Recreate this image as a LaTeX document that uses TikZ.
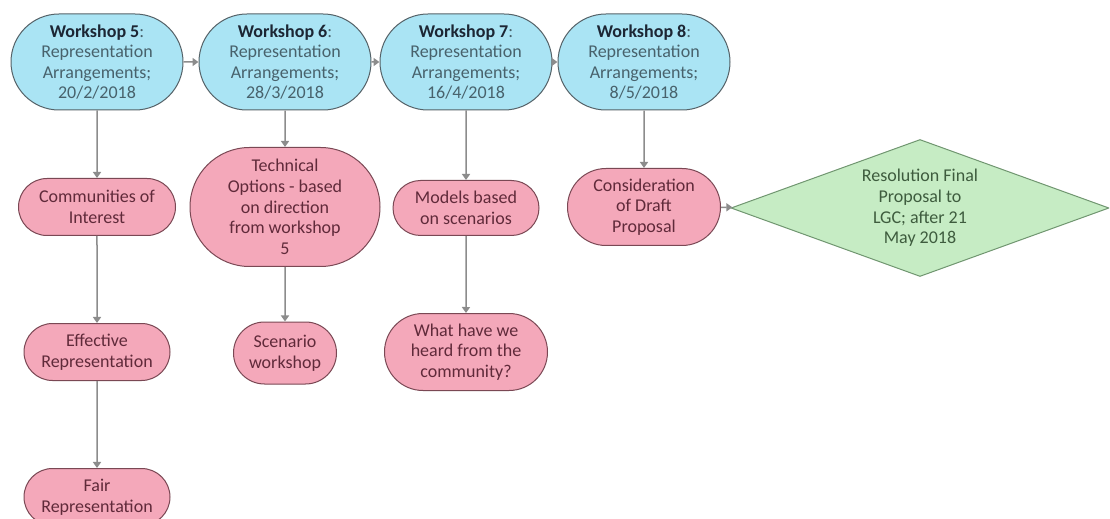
\documentclass[tikz,border=0pt]{standalone}
\usepackage{fontspec}
\setmainfont{Carlito}
\usetikzlibrary{shapes.misc,shapes.geometric,arrows.meta}

\begin{document}
\begin{tikzpicture}[
    x=0.5pt, y=-0.5pt,
    font=\fontsize{9}{10.3}\selectfont,
    >={Triangle[length=3pt,width=4pt]},
    line join=round,
    wsbox/.style={rounded rectangle, draw=wsborder, fill=wscolor, text=wstext,
        align=center, line width=0.5pt, inner sep=1pt,
        minimum width=88pt, minimum height=48pt},
    taskbox/.style={rounded rectangle, draw=taskborder, fill=taskcolor, text=tasktext,
        align=center, line width=0.5pt, inner sep=1pt},
    goalbox/.style={diamond, aspect=2.77, draw=goalborder, fill=goalcolor, text=goaltext,
        align=center, line width=0.5pt, inner sep=0pt,
        minimum width=189pt, minimum height=68.5pt},
    link/.style={->, draw=linkcolor, line width=0.75pt}
]

% ========= Colors =========
\definecolor{wscolor}{RGB}{170,228,244}
\definecolor{wsborder}{RGB}{85,98,104}
\definecolor{wstext}{RGB}{72,98,108}
\definecolor{wstitle}{RGB}{28,38,52}

\definecolor{taskcolor}{RGB}{244,168,186}
\definecolor{taskborder}{RGB}{122,72,84}
\definecolor{tasktext}{RGB}{96,42,58}

\definecolor{goalcolor}{RGB}{198,236,196}
\definecolor{goalborder}{RGB}{112,150,112}
\definecolor{goaltext}{RGB}{62,92,62}

\definecolor{linkcolor}{RGB}{140,140,140}

% ========= Frame =========
\useasboundingbox[fill=white] (0,0) rectangle (1110,519);
\clip (0,0) rectangle (1110,519);

% ========= Workshops =========
\node[wsbox] (ws5) at (97,62)  {\textcolor{wstitle}{\textbf{Workshop 5}}:\\Representation\\Arrangements;\\20/2/2018};
\node[wsbox] (ws6) at (285,62) {\textcolor{wstitle}{\textbf{Workshop 6}}:\\Representation\\Arrangements;\\28/3/2018};
\node[wsbox] (ws7) at (466,62) {\textcolor{wstitle}{\textbf{Workshop 7}}:\\Representation\\Arrangements;\\16/4/2018};
\node[wsbox] (ws8) at (644,62) {\textcolor{wstitle}{\textbf{Workshop 8}}:\\Representation\\Arrangements;\\8/5/2018};

% ========= Tasks =========
\node[taskbox, minimum width=80.5pt, minimum height=28.5pt] (comm) at (97,207) {Communities of\\Interest};
\node[taskbox, minimum width=75pt, minimum height=28.5pt] (effrep) at (97,352) {Effective\\Representation};
\node[taskbox, minimum width=75pt, minimum height=28.5pt] (fairrep) at (97,497) {Fair\\Representation};

\node[taskbox, minimum width=97pt, minimum height=59.5pt] (techopt) at (285,207) {Technical\\Options - based\\on direction\\from workshop\\5};
\node[taskbox, minimum width=53.5pt, minimum height=31pt] (scenario) at (285,353) {Scenario\\workshop};

\node[taskbox, minimum width=75pt, minimum height=27.5pt] (models) at (466,208) {Models based\\on scenarios};
\node[taskbox, minimum width=83.5pt, minimum height=38.5pt] (heard) at (466,352) {What have we\\heard from the\\community?};

\node[taskbox, minimum width=78.5pt, minimum height=38.5pt] (draft) at (644,207) {Consideration\\of Draft\\Proposal};

% ========= Final resolution =========
\node[goalbox] (resolve) at (920,208) {Resolution Final\\Proposal to\\LGC; after 21\\May 2018};

% ========= Connectors =========
\draw[link] (ws5) -- (ws6);
\draw[link] (ws6) -- (ws7);
\draw[link] (ws7) -- (ws8);

\draw[link] (ws5) -- (comm);
\draw[link] (comm) -- (effrep);
\draw[link] (effrep) -- (fairrep);

\draw[link] (ws6) -- (techopt);
\draw[link] (techopt) -- (scenario);

\draw[link] (ws7) -- (models);
\draw[link] (models) -- (heard);

\draw[link] (ws8) -- (draft);
\draw[link] (draft) -- (resolve);

\end{tikzpicture}
\end{document}
